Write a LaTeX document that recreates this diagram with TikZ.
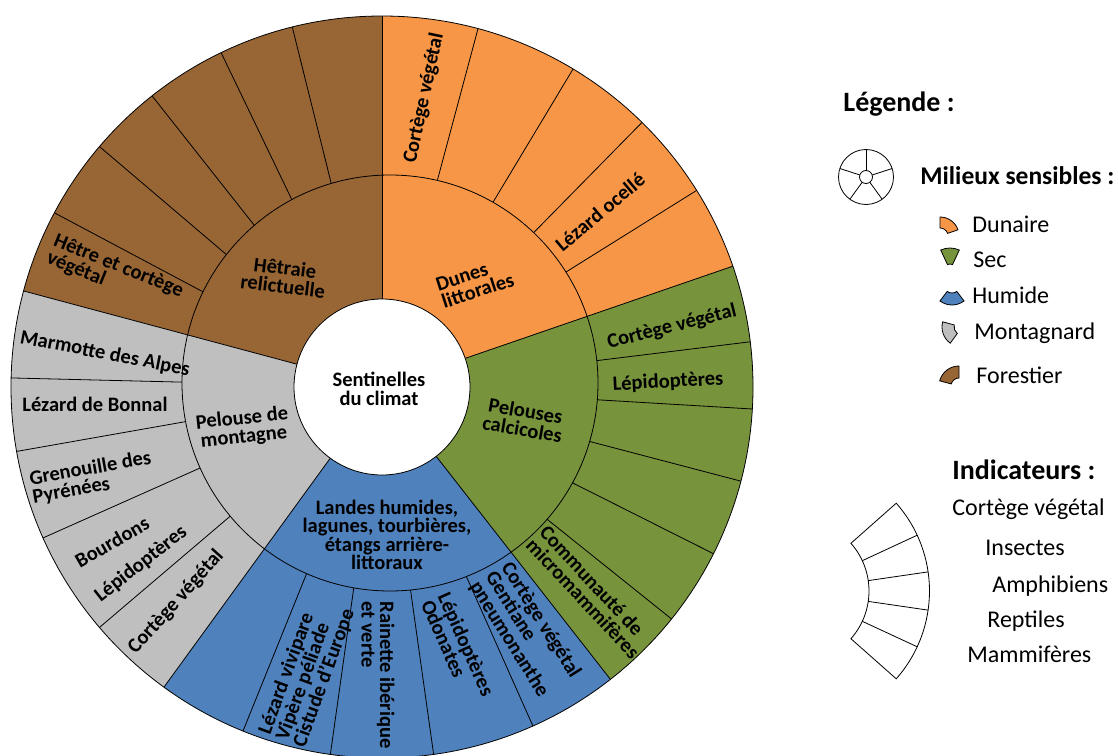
\documentclass[tikz,border=0pt]{standalone}
\usepackage{fontspec}
\setmainfont{Carlito}
\usetikzlibrary{calc}

\definecolor{cdune}{RGB}{247,150,70}
\definecolor{csec}{RGB}{119,147,60}
\definecolor{chumide}{RGB}{79,129,189}
\definecolor{cmont}{RGB}{191,191,191}
\definecolor{cforet}{RGB}{152,101,52}

\tikzset{
  lab/.style={font=\bfseries\fontsize{20.5}{18.5}\selectfont, align=center, inner sep=0pt},
  labl/.style={lab, align=left},
  leg/.style={font=\fontsize{24}{28}\selectfont, anchor=base west, inner sep=0pt},
  legtitle/.style={leg, font=\bfseries\fontsize{28}{32}\selectfont},
}

\begin{document}
\begin{tikzpicture}[x=1pt,y=1pt,line width=0.8pt]
  \useasboundingbox (-382,-368) rectangle (736,387);
  % les cinq milieux
  \foreach \a/\b/\c in {90/165/cforet,19/90/cdune,-52/19/csec,-126/-52/chumide,165/234/cmont}
    \fill[\c] (0,0) -- (\a:371) arc[start angle=\a, end angle=\b, radius=371] -- cycle;
  \foreach \a in {104,115.7,128.3,139.6,152,75,59,45.5,32,7,-3.4,-14.7,-26.7,-38.7,-66,-82,-98,-112,178.6,190,204,220.4}
    \draw (0,0) -- (\a:371);
  \foreach \a/\b/\c in {90/165/cforet,19/90/cdune,-52/19/csec,-126/-52/chumide,165/234/cmont}{
    \begin{scope}
      \clip (0,0) -- (\a:400) arc[start angle=\a, end angle=\b, radius=400] -- cycle;
      \fill[\c] (8,4) circle[radius=208];
    \end{scope}
  }
  \draw (8,4) circle[radius=208];
  \foreach \a in {90,19,-52,-126,165}
    \draw (\a:88) -- (\a:371);
  \draw[fill=white] (0,0) circle[radius=88];
  \draw (0,0) circle[radius=371];

  \node[lab] (centre) at (-3,-2) {Sentinelles\\du climat};
  \node[lab, rotate=-7] (hetraie) at (-98,110) {Hêtraie\\relictuelle};
  \node[labl, rotate=18] (dunes) at (93,105) {Dunes\\littorales};
  \node[lab, rotate=-10] (pelouses) at (142,-33) {Pelouses\\calcicoles};
  \node[lab] (landes) at (5,-148) {Landes humides,\\lagunes, tourbières,\\étangs arrière-\\littoraux};
  \node[lab, rotate=6] (montagne) at (-139,-41) {Pelouse de\\montagne};

  \node[lab, rotate=78] (dveg) at (42,289) {Cortège végétal};
  \node[lab, rotate=40] (dlez) at (218,175) {Lézard ocellé};
  \node[lab, rotate=14] (sveg) at (290,60) {Cortège végétal};
  \node[lab, rotate=3] (slep) at (286,5) {Lépidoptères};
  \node[labl, rotate=-47] (smam) at (208,-205) {Communauté de\\micromammifères};
  \node[labl, rotate=70] (hrep) at (-75,-285) {Lézard vivipare\\Vipère péliade\\Cistude d’Europe};
  \node[labl, rotate=-90] (hamp) at (-4,-288) {Rainette ibérique\\et verte};
  \node[labl, rotate=-66] (hins) at (76,-261) {Lépidoptères\\Odonates};
  \node[labl, rotate=-58] (hveg) at (143,-243) {Cortège végétal\\Gentiane\\pneumonanthe};
  \node[lab, rotate=-11] (mmar) at (-277,33) {Marmotte des Alpes};
  \node[lab] (mlez) at (-287,-17) {Lézard de Bonnal};
  \node[labl, rotate=10] (mgre) at (-290,-91) {Grenouille des\\Pyrénées};
  \node[lab, rotate=30] (mbou) at (-270,-155) {Bourdons};
  \node[lab, rotate=38] (mlep) at (-241,-177) {Lépidoptères};
  \node[lab, rotate=48] (mveg) at (-206,-215) {Cortège végétal};
  \node[labl, rotate=-22] (fveg) at (-267,112) {Hêtre et cortège\\végétal};

  % legende
  \node[legtitle] (legende) at (461,275) {Légende :};
  \begin{scope}[shift={(484,210)}]
    \draw (0,0) circle[radius=27.5];
    \draw (0,0) circle[radius=6.5];
    \foreach \a in {18,90,162,234,306}
      \draw (\a:6.5) -- (\a:27.5);
  \end{scope}
  \node[legtitle, font=\bfseries\fontsize{25.5}{30}\selectfont] (milieux) at (538,202) {Milieux sensibles :};
  \foreach \x/\y/\a/\b/\ri/\ro/\c in {558/151/19/90/8/19/cdune,568/117/65/115/6/22/csec,570/102/-127/-53/8/20/chumide,580/60/165/234/8/20/cmont,577/1/90/165/8/20/cforet}
    \draw[fill=\c] ($(\x,\y)+(\a:\ri)$) -- ($(\x,\y)+(\a:\ro)$) arc[start angle=\a, end angle=\b, radius=\ro]
      -- ($(\x,\y)+(\b:\ri)$) arc[start angle=\b, end angle=\a, radius=\ri] -- cycle;
  \node[leg] (dunaire) at (590,154) {Dunaire};
  \node[leg] (sec) at (591,120) {Sec};
  \node[leg] (humide) at (590,84) {Humide};
  \node[leg] (montagnard) at (592,48) {Montagnard};
  \node[leg] (forestier) at (594,4) {Forestier};

  \begin{scope}[shift={(415,-204)}]
    \draw (-41.5:72) -- (-41.5:132.5) arc[start angle=-41.5, end angle=41.5, radius=132.5]
      -- (41.5:72) arc[start angle=41.5, end angle=-41.5, radius=72] -- cycle;
    \foreach \a in {-24.9,-8.3,8.3,24.9}
      \draw (\a:72) -- (\a:132.5);
  \end{scope}
  \node[legtitle] (indic) at (570,-92) {Indicateurs :};
  \node[leg] (iveg) at (570,-128) {Cortège végétal};
  \node[leg] (iins) at (603,-168) {Insectes};
  \node[leg] (iamp) at (610,-205) {Amphibiens};
  \node[leg] (irep) at (605,-240) {Reptiles};
  \node[leg] (imam) at (585,-275) {Mammifères};
\end{tikzpicture}
\end{document}
